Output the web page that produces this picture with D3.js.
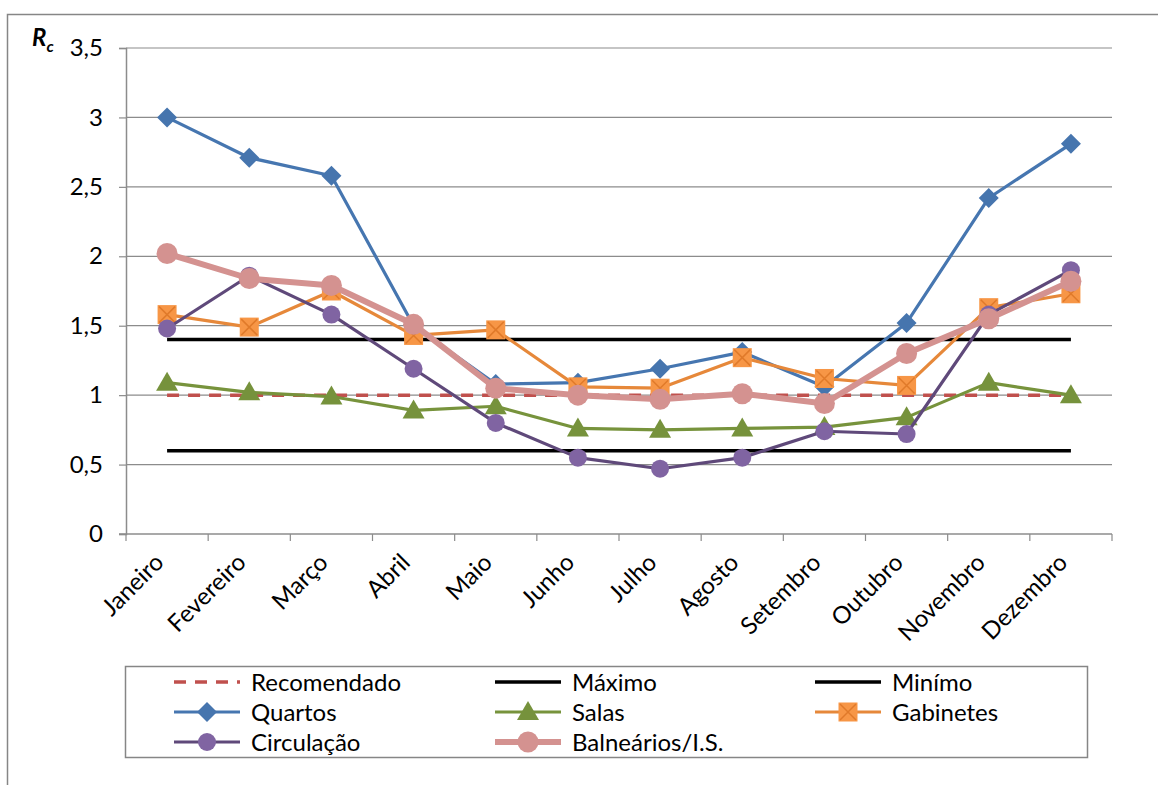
<!DOCTYPE html>
<html>
<head>
<meta charset="utf-8">
<script src="https://cdn.jsdelivr.net/npm/d3@7"></script>
<style>
  body { margin: 0; background: #fff; }
  text { font-family: Lato, "Open Sans", sans-serif; }
</style>
</head>
<body>
<div id="chart"></div>
<script>
  const months = ["Janeiro", "Fevereiro", "Março", "Abril", "Maio", "Junho", "Julho", "Agosto", "Setembro", "Outubro", "Novembro", "Dezembro"]
  const recomendado = [1, 1, 1, 1, 1, 1, 1, 1, 1, 1, 1, 1]
  const maximo = [1.4, 1.4, 1.4, 1.4, 1.4, 1.4, 1.4, 1.4, 1.4, 1.4, 1.4, 1.4]
  const minimo = [0.6, 0.6, 0.6, 0.6, 0.6, 0.6, 0.6, 0.6, 0.6, 0.6, 0.6, 0.6]
  const quartos = [3.0, 2.71, 2.58, 1.5, 1.08, 1.09, 1.19, 1.31, 1.06, 1.52, 2.42, 2.81]
  const salas = [1.09, 1.02, 0.99, 0.89, 0.92, 0.76, 0.75, 0.76, 0.77, 0.84, 1.09, 1.0]
  const gabinetes = [1.58, 1.49, 1.75, 1.43, 1.47, 1.06, 1.05, 1.27, 1.12, 1.07, 1.63, 1.73]
  const circulacao = [1.48, 1.86, 1.58, 1.19, 0.8, 0.55, 0.47, 0.55, 0.74, 0.72, 1.58, 1.9]
  const balnearios = [2.02, 1.84, 1.79, 1.51, 1.05, 1.0, 0.97, 1.01, 0.94, 1.3, 1.55, 1.82]
  const yTicks = [0, 0.5, 1, 1.5, 2, 2.5, 3, 3.5]

  const width = 1158, height = 785
  const plotLeft = 126, plotRight = 1112, plotTop = 48, plotBottom = 534
  const fontSize = 24

  const svg = d3.select("#chart").append("svg")
    .attr("width", width)
    .attr("height", height)

  // outer chart border (runs off the picture on the right and bottom)
  svg.append("rect")
    .attr("x", 7.5).attr("y", 14.5)
    .attr("width", 1170).attr("height", 800)
    .attr("fill", "none")
    .attr("stroke", "#868686")
    .attr("stroke-width", 1.5)

  const x = d3.scaleBand().domain(months).range([plotLeft, plotRight])
  const y = d3.scaleLinear().domain([0, 3.5]).range([plotBottom, plotTop])
  const cx = m => x(m) + x.bandwidth() / 2

  // gridlines
  svg.append("g")
    .selectAll("line")
    .data(yTicks.filter(d => d > 0))
    .join("line")
      .attr("x1", plotLeft).attr("x2", plotRight)
      .attr("y1", d => y(d)).attr("y2", d => y(d))
      .attr("stroke", "#8c8c8c")
      .attr("stroke-width", 1.2)

  // y axis
  const yAxis = svg.append("g")
    .attr("transform", `translate(${plotLeft},0)`)
    .call(d3.axisLeft(y).tickValues(yTicks).tickSize(7).tickPadding(16)
      .tickFormat(d => String(d).replace(".", ",")))
  yAxis.select(".domain").attr("stroke", "#8c8c8c").attr("stroke-width", 1.5)
  yAxis.selectAll(".tick line").attr("stroke", "#8c8c8c").attr("stroke-width", 1.2)
  yAxis.selectAll(".tick text")
    .attr("font-size", fontSize)
    .attr("font-family", "Lato, sans-serif")
    .attr("fill", "#000")

  // x axis: ticks on category boundaries
  svg.append("line")
    .attr("x1", plotLeft - 7).attr("x2", plotRight)
    .attr("y1", plotBottom).attr("y2", plotBottom)
    .attr("stroke", "#8c8c8c").attr("stroke-width", 1.5)
  svg.append("g")
    .selectAll("line")
    .data(months.concat(["end"]))
    .join("line")
      .attr("x1", (d, i) => i < months.length ? x(d) : plotRight)
      .attr("x2", (d, i) => i < months.length ? x(d) : plotRight)
      .attr("y1", plotBottom).attr("y2", plotBottom + 7)
      .attr("stroke", "#8c8c8c").attr("stroke-width", 1.2)

  svg.append("g")
    .selectAll("text")
    .data(months)
    .join("text")
      .attr("transform", d => `translate(${cx(d) - 2},${plotBottom + 30}) rotate(-45)`)
      .attr("text-anchor", "end")
      .attr("font-size", fontSize)
      .text(d => d)

  // Rc label
  const rc = svg.append("text")
    .attr("x", 32).attr("y", 46)
    .attr("font-size", fontSize)
    .attr("font-weight", "bold")
    .attr("font-style", "italic")
  rc.append("tspan").text("R")
  rc.append("tspan").attr("font-size", 16).attr("dy", 6).text("c")

  const line = d3.line()
    .x((d, i) => cx(months[i]))
    .y(d => y(d))

  const series = [
    { name: "Recomendado", values: recomendado, color: "#c0504d", width: 3.5, dash: "12,9", marker: null },
    { name: "Máximo", values: maximo, color: "#000", width: 3.5, marker: null },
    { name: "Minímo", values: minimo, color: "#000", width: 3.5, marker: null },
    { name: "Quartos", values: quartos, color: "#4676b0", width: 3.2, marker: "diamond", fill: "#4675ae" },
    { name: "Salas", values: salas, color: "#77933c", width: 3.2, marker: "triangle", fill: "#76923c" },
    { name: "Gabinetes", values: gabinetes, color: "#e6883a", width: 3.2, marker: "square", fill: "#f79646" },
    { name: "Circulação", values: circulacao, color: "#5f497a", width: 3.2, marker: "circle", fill: "#8064a2" },
    { name: "Balneários/I.S.", values: balnearios, color: "#d49290", width: 6, marker: "circlebig", fill: "#d49290" }
  ]

  function drawMarker(g, type, fill, px, py) {
    if (type === "diamond") {
      g.append("path")
        .attr("d", `M${px},${py - 10}L${px + 10},${py}L${px},${py + 10}L${px - 10},${py}Z`)
        .attr("fill", fill)
    } else if (type === "triangle") {
      g.append("path")
        .attr("d", `M${px},${py - 11}L${px + 11},${py + 8}L${px - 11},${py + 8}Z`)
        .attr("fill", fill)
    } else if (type === "square") {
      g.append("rect")
        .attr("x", px - 9.5).attr("y", py - 9.5)
        .attr("width", 19).attr("height", 19)
        .attr("fill", fill)
      g.append("path")
        .attr("d", `M${px - 8},${py - 8}L${px + 8},${py + 8}M${px + 8},${py - 8}L${px - 8},${py + 8}`)
        .attr("stroke", "#e07a2a").attr("stroke-width", 1.5)
    } else if (type === "circle") {
      g.append("circle").attr("cx", px).attr("cy", py).attr("r", 9).attr("fill", fill)
    } else if (type === "circlebig") {
      g.append("circle").attr("cx", px).attr("cy", py).attr("r", 10.5).attr("fill", fill)
    }
  }

  series.forEach(s => {
    const g = svg.append("g")
    g.append("path")
      .attr("d", line(s.values))
      .attr("fill", "none")
      .attr("stroke", s.color)
      .attr("stroke-width", s.width)
      .attr("stroke-dasharray", s.dash || null)
      .attr("stroke-linejoin", "round")
    if (s.marker) {
      s.values.forEach((v, i) => drawMarker(g, s.marker, s.fill, cx(months[i]), y(v)))
    }
  })

  // legend
  svg.append("rect")
    .attr("x", 125.5).attr("y", 666.5)
    .attr("width", 962).attr("height", 91)
    .attr("fill", "#fff")
    .attr("stroke", "#868686")
    .attr("stroke-width", 1.5)

  const colX = [174, 495, 815]
  const rowY = [682, 712, 742]
  series.forEach((s, i) => {
    const lx = colX[i % 3], ly = rowY[Math.floor(i / 3)]
    const g = svg.append("g")
    g.append("line")
      .attr("x1", lx).attr("x2", lx + 66)
      .attr("y1", ly).attr("y2", ly)
      .attr("stroke", s.color)
      .attr("stroke-width", s.width)
      .attr("stroke-dasharray", s.dash || null)
    if (s.marker) drawMarker(g, s.marker, s.fill, lx + 33, ly)
    g.append("text")
      .attr("x", lx + 77).attr("y", ly)
      .attr("dy", "0.36em")
      .attr("font-size", fontSize)
      .text(s.name)
  })
</script>
</body>
</html>
